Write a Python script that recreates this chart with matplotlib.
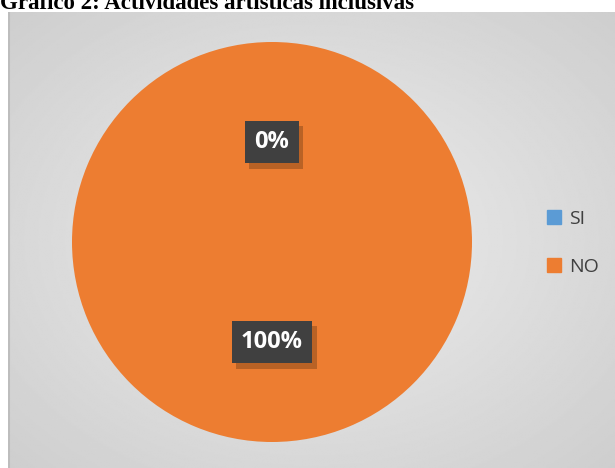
import numpy as np
import matplotlib
matplotlib.use("Agg")
import matplotlib.pyplot as plt
import matplotlib.patheffects as pe

categories = ["SI", "NO"]
values = [0, 100]
colors = ["#5B9BD5", "#ED7D31"]
title = "Gráfico 2: Actividades artísticas inclusivas"

W, H = 615, 468
fig = plt.figure(figsize=(W / 100, H / 100), dpi=100)
fig.patch.set_facecolor("white")

# gray radial background of the chart area
bg = fig.add_axes([8 / W, 0, 1 - 8 / W, 1 - 12 / H])
yy, xx = np.mgrid[0:1:300j, 0:1:400j]
r = np.sqrt(((xx - 0.5) / 0.75) ** 2 + ((yy - 0.5) / 0.75) ** 2)
grad = 0.93 - 0.13 * np.clip(r, 0, 1)
bg.imshow(grad, cmap="gray", vmin=0, vmax=1, aspect="auto",
          extent=[0, 1, 0, 1], origin="lower")
bg.axvline(0.002, color="#bdbdbd", lw=1.5)
bg.set_axis_off()

# title, cut at the top like the reference
fig.text(0, 1 - 9 / H, title, fontsize=16.5, fontweight="bold",
         family="Liberation Serif", va="baseline", ha="left")

ax = fig.add_axes([72 / W, 26 / H, 400 / W, 400 / H])
wedges, texts, autotexts = ax.pie(values, colors=colors, startangle=90,
                                  counterclock=False, autopct="%1.0f%%",
                                  pctdistance=0.5, radius=1)
ax.set_xlim(-1, 1)
ax.set_ylim(-1, 1)
ax.set_aspect("auto")

for t in autotexts:
    t.set_color("white")
    t.set_fontsize(17)
    t.set_fontweight("bold")
    t.set_family("Open Sans")
    t.set_bbox(dict(boxstyle="square,pad=0.4", facecolor="#404040",
                    edgecolor="none"))
    t.get_bbox_patch().set_path_effects([
        pe.SimplePatchShadow(offset=(3, -4), shadow_rgbFace="#7a4318", alpha=0.45),
        pe.Normal()])

handles = [plt.Line2D([], [], marker="s", linestyle="none", markersize=10,
                      color=c) for c in colors]
fig.legend(handles, categories, loc="center left",
           bbox_to_anchor=(542 / W, 1 - 243 / H), frameon=False,
           labelcolor="#404040", handletextpad=0.2, handlelength=1.2,
           borderpad=0, borderaxespad=0, labelspacing=1.55,
           prop={"family": "Open Sans", "size": 14})

fig.savefig("out.png", dpi=100)
